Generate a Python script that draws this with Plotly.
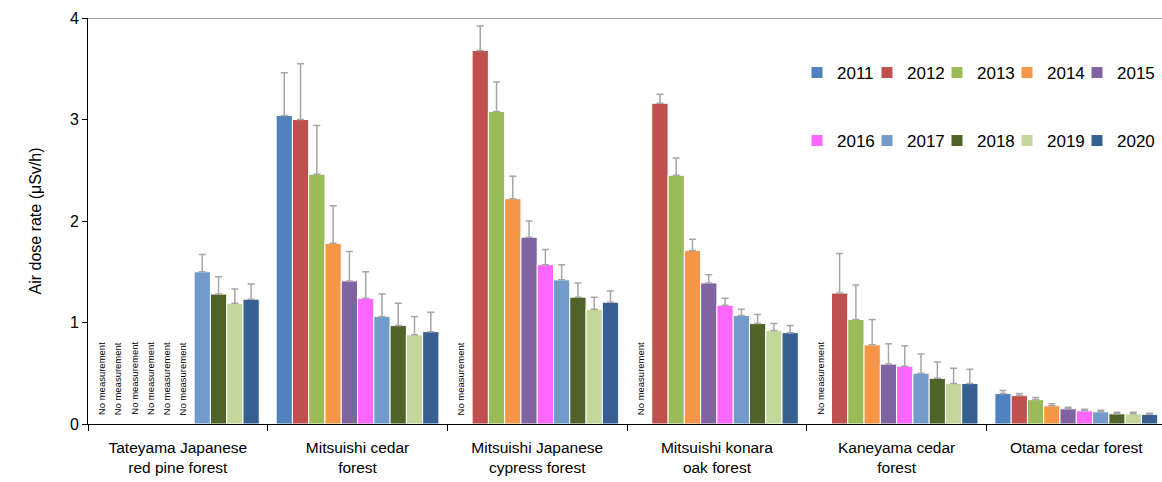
import plotly.graph_objects as go

# Forest sites (x categories) and survey years (series)
sites = [
    "Tateyama Japanese<br>red pine forest",
    "Mitsuishi cedar<br>forest",
    "Mitsuishi Japanese<br>cypress forest",
    "Mitsuishi konara<br>oak forest",
    "Kaneyama cedar<br>forest",
    "Otama cedar forest",
]
years = ["2011", "2012", "2013", "2014", "2015",
         "2016", "2017", "2018", "2019", "2020"]
colors = ["#4F81BD", "#C0504D", "#9BBB59", "#F79646", "#8064A2",
          "#FF66FF", "#729ACA", "#4F6228", "#C4D79B", "#376092"]

# Mean air dose rate (uSv/h) per site, 2011-2020; None = no measurement
mean_tateyama = [None, None, None, None, None, None, 1.50, 1.28, 1.19, 1.23]
mean_mitsuishi_cedar = [3.04, 3.00, 2.46, 1.78, 1.41, 1.24, 1.06, 0.97, 0.88, 0.91]
mean_mitsuishi_cypress = [None, 3.68, 3.08, 2.22, 1.84, 1.57, 1.42, 1.25, 1.13, 1.20]
mean_mitsuishi_oak = [None, 3.16, 2.45, 1.71, 1.39, 1.17, 1.07, 0.99, 0.92, 0.90]
mean_kaneyama_cedar = [None, 1.29, 1.03, 0.78, 0.59, 0.57, 0.50, 0.45, 0.40, 0.40]
mean_otama_cedar = [0.30, 0.28, 0.24, 0.18, 0.15, 0.13, 0.12, 0.10, 0.10, 0.095]

# Standard deviations (upper error bars)
sd_tateyama = [None, None, None, None, None, None, 0.17, 0.17, 0.14, 0.15]
sd_mitsuishi_cedar = [0.42, 0.55, 0.48, 0.37, 0.29, 0.26, 0.22, 0.22, 0.18, 0.19]
sd_mitsuishi_cypress = [None, 0.24, 0.29, 0.22, 0.16, 0.15, 0.15, 0.14, 0.12, 0.11]
sd_mitsuishi_oak = [None, 0.09, 0.17, 0.11, 0.08, 0.07, 0.06, 0.09, 0.07, 0.07]
sd_kaneyama_cedar = [None, 0.39, 0.34, 0.25, 0.20, 0.20, 0.19, 0.16, 0.15, 0.14]
sd_otama_cedar = [0.03, 0.02, 0.02, 0.02, 0.015, 0.015, 0.015, 0.015, 0.015, 0.01]

means = [mean_tateyama, mean_mitsuishi_cedar, mean_mitsuishi_cypress,
         mean_mitsuishi_oak, mean_kaneyama_cedar, mean_otama_cedar]
sds = [sd_tateyama, sd_mitsuishi_cedar, sd_mitsuishi_cypress,
       sd_mitsuishi_oak, sd_kaneyama_cedar, sd_otama_cedar]

FONT = "Arial, Liberation Sans, sans-serif"
BARGAP = 0.094
PLOT_L, PLOT_R, PLOT_T, PLOT_B = 88, 1162, 18, 424

fig = go.Figure()
for j, yr in enumerate(years):
    y = [m[j] for m in means]
    e = [s[j] if s[j] is not None else 0 for s in sds]
    last_in_row = j in (4, 9)
    fig.add_trace(go.Bar(
        name=yr,
        x=sites,
        y=y,
        marker=dict(color=colors[j], line=dict(color="white", width=1)),
        error_y=dict(type="data", array=e, arrayminus=[0] * len(e),
                     symmetric=False, color="#A6A6A6", thickness=1.5, width=3.5),
        legend="legend" if j < 5 else "legend2",
        legendwidth=45 if last_in_row else None,
    ))

# "No measurement" labels at the missing bars
slot = (1 - BARGAP) / len(years)
for i, m in enumerate(means):
    for j, v in enumerate(m):
        if v is None:
            xc = i - (1 - BARGAP) / 2 + (j + 0.5) * slot
            fig.add_annotation(
                x=xc, y=0, xref="x", yref="y", text="No measurement",
                textangle=-90, showarrow=False, xanchor="center",
                yanchor="bottom", yshift=7, xshift=-3,
                font=dict(family=FONT, size=9.5, color="black"),
            )

# Plot-area top border
fig.add_shape(type="line", xref="paper", yref="y", x0=0, x1=1, y0=4, y1=4,
              line=dict(color="#868686", width=1.5))


def px_x(px):
    return (px - PLOT_L) / (PLOT_R - PLOT_L)


def px_y(py):
    return (PLOT_B - py) / (PLOT_B - PLOT_T)


legend_common = dict(
    orientation="h", xref="paper", yref="paper",
    xanchor="left", yanchor="middle", bgcolor="rgba(0,0,0,0)",
    font=dict(family=FONT, size=17, color="black"),
    entrywidth=25, entrywidthmode="pixels", itemclick=False,
    tracegroupgap=0,
)

fig.update_layout(
    width=1162, height=482,
    margin=dict(l=PLOT_L, r=1162 - PLOT_R, t=PLOT_T, b=482 - PLOT_B,
                autoexpand=False),
    paper_bgcolor="white", plot_bgcolor="white",
    barmode="group", bargap=BARGAP, bargroupgap=0,
    font=dict(family=FONT, color="black"),
    legend=dict(x=px_x(797), y=px_y(73), **legend_common),
    legend2=dict(x=px_x(797), y=px_y(141), **legend_common),
    xaxis=dict(
        type="category", range=[-0.5, 5.477],
        tickson="boundaries", ticks="outside", ticklen=6,
        tickcolor="black", showline=True, linecolor="black", linewidth=1,
        showgrid=False, ticklabelstandoff=9,
        tickfont=dict(family=FONT, size=15.5, color="black"),
    ),
    yaxis=dict(
        range=[0, 4], dtick=1, ticks="outside", ticklen=5,
        tickcolor="black", showline=True, linecolor="black", linewidth=1,
        showgrid=False, zeroline=False,
        tickfont=dict(family=FONT, size=16, color="black"),
        title=dict(text="Air dose rate (μSv/h)", standoff=24,
                   font=dict(family=FONT, size=16, color="black")),
    ),
)

fig.write_html("out.html")
